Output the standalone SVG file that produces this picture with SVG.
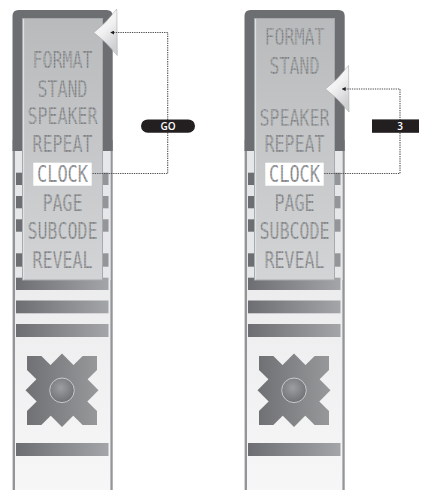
<svg xmlns="http://www.w3.org/2000/svg" xmlns:xlink="http://www.w3.org/1999/xlink" width="422" height="490" viewBox="0 0 422 490">
<style>
.lcd{font-family:"DejaVu Sans Mono",monospace;font-size:23px;fill:url(#dots);text-anchor:middle;}
.conn{fill:none;stroke:#4d4d4f;stroke-width:1.1;stroke-dasharray:1.3 1;}
.lbl{fill:#231f20;}
.lbltxt{font-family:"Open Sans","Liberation Sans",sans-serif;font-size:10px;font-weight:600;fill:#ffffff;text-anchor:middle;}
.seg{fill:#6d6e71;}
.segR{fill:#939598;}
.bar{fill:url(#barGrad);}
</style>
<defs>
<pattern id="dots" patternUnits="userSpaceOnUse" width="1.5" height="1.5">
<rect width="1.5" height="1.5" fill="#b4b6b8"/>
<rect width="1" height="1" fill="#6f7174"/>
</pattern>
<linearGradient id="bodyGrad" x1="0" y1="0" x2="0" y2="1">
<stop offset="0" stop-color="#e2e3e4"/>
<stop offset="1" stop-color="#f7f7f8"/>
</linearGradient>
<linearGradient id="screenGrad" x1="0" y1="0" x2="0" y2="1">
<stop offset="0" stop-color="#b8babc"/>
<stop offset="1" stop-color="#d3d4d5"/>
</linearGradient>
<linearGradient id="barGrad" x1="0" y1="0" x2="1" y2="0">
<stop offset="0" stop-color="#6d6e71"/>
<stop offset="1" stop-color="#a3a5a8"/>
</linearGradient>
<linearGradient id="crossGrad" gradientUnits="userSpaceOnUse" x1="25" y1="0" x2="99" y2="0">
<stop offset="0" stop-color="#6f7073"/>
<stop offset="1" stop-color="#97999b"/>
</linearGradient>
<radialGradient id="knobGrad" cx="0.45" cy="0.4" r="0.6">
<stop offset="0" stop-color="#9c9ea0"/>
<stop offset="1" stop-color="#707174"/>
</radialGradient>
<linearGradient id="ptrGrad" x1="0" y1="0" x2="0.5" y2="1">
<stop offset="0" stop-color="#ffffff"/>
<stop offset="0.55" stop-color="#f1f1f2"/>
<stop offset="1" stop-color="#cfd0d2"/>
</linearGradient>
<clipPath id="crossClip">
<rect x="27" y="356" width="70" height="69"/>
</clipPath>
<marker id="arrowHead" viewBox="0 0 6 6" refX="1" refY="3" markerWidth="4" markerHeight="4" orient="auto-start-reverse" markerUnits="userSpaceOnUse">
<path d="M0,0 L6,3 L0,6 Z" fill="#231f20"/>
</marker>
<path id="pointer" d="M0,0 Q12,-9 23,-23.5 L23.5,23 Q12,9 0,0 Z" fill="url(#ptrGrad)" stroke="#a9abae" stroke-width="0.6"/>
<g id="device">
<rect x="13" y="100" width="99" height="400" fill="url(#bodyGrad)"/>
<rect x="12.6" y="140" width="2.4" height="360" fill="#939598"/>
<rect x="110.4" y="140" width="2.3" height="360" fill="#939598"/>
<path d="M12.5,151 V16 Q12.5,10 18.5,10 H106.5 Q112.7,10 112.7,16 V151 Z" fill="#6d6e71"/>
<rect x="15" y="151" width="7.5" height="129" fill="#e6e7e8"/>
<rect x="102.5" y="151" width="8" height="129" fill="#e6e7e8"/>
<rect class="seg" x="16" y="172.7" width="6.5" height="12.3"/>
<rect class="seg" x="16" y="196" width="6.5" height="12.3"/>
<rect class="seg" x="16" y="219.3" width="6.5" height="12.4"/>
<rect class="seg" x="16" y="253.3" width="6.5" height="13.4"/>
<rect class="segR" x="102.5" y="172.7" width="6" height="12.3"/>
<rect class="segR" x="102.5" y="196" width="6" height="12.3"/>
<rect class="segR" x="102.5" y="219.3" width="6" height="12.4"/>
<rect class="segR" x="102.5" y="253.3" width="6" height="13.4"/>
<rect class="bar" x="16" y="277.7" width="92.5" height="12.3"/>
<rect x="22.5" y="18.5" width="80" height="261.5" fill="url(#screenGrad)" stroke="#a7a9ac" stroke-width="1"/>
<line x1="23.6" y1="19" x2="23.6" y2="279.5" stroke="#e3e4e5" stroke-width="1"/>
<rect class="bar" x="16" y="300.5" width="92.5" height="12.8"/>
<rect class="bar" x="16" y="324" width="92.5" height="13"/>
<rect class="bar" x="16" y="443" width="92.5" height="13"/>
<polygon points="62,353.5 98.5,390.3 62,427 25.5,390.3" fill="url(#crossGrad)"/>
<g clip-path="url(#crossClip)" stroke="url(#crossGrad)" stroke-width="20">
<line x1="17" y1="346" x2="107" y2="435"/>
<line x1="107" y1="346" x2="17" y2="435"/>
</g>
<circle cx="62" cy="390.3" r="12.3" fill="url(#knobGrad)" stroke="#c9cacc" stroke-width="1"/>
</g>
</defs>

<g id="device-left">
<use xlink:href="#device"/>
<rect x="33.3" y="162.7" width="58.4" height="23" fill="#ffffff"/>
<text class="lcd" x="62.5" y="68.3" textLength="60" lengthAdjust="spacingAndGlyphs">FORMAT</text>
<text class="lcd" x="62.5" y="96.7" textLength="50" lengthAdjust="spacingAndGlyphs">STAND</text>
<text class="lcd" x="62.5" y="124.3" textLength="70" lengthAdjust="spacingAndGlyphs">SPEAKER</text>
<text class="lcd" x="62.5" y="151.7" textLength="60" lengthAdjust="spacingAndGlyphs">REPEAT</text>
<text class="lcd" x="62.5" y="181.6" textLength="51" lengthAdjust="spacingAndGlyphs">CLOCK</text>
<text class="lcd" x="62.5" y="210.6" textLength="40" lengthAdjust="spacingAndGlyphs">PAGE</text>
<text class="lcd" x="62.5" y="239.3" textLength="70" lengthAdjust="spacingAndGlyphs">SUBCODE</text>
<text class="lcd" x="62.5" y="268.3" textLength="60" lengthAdjust="spacingAndGlyphs">REVEAL</text>
</g>

<g id="device-right">
<use xlink:href="#device" transform="translate(232,0)"/>
<rect x="265.3" y="162.7" width="58.4" height="23" fill="#ffffff"/>
<text class="lcd" x="294.5" y="45" textLength="60" lengthAdjust="spacingAndGlyphs">FORMAT</text>
<text class="lcd" x="294.5" y="74" textLength="50" lengthAdjust="spacingAndGlyphs">STAND</text>
<text class="lcd" x="294.5" y="125.7" textLength="70" lengthAdjust="spacingAndGlyphs">SPEAKER</text>
<text class="lcd" x="294.5" y="152" textLength="60" lengthAdjust="spacingAndGlyphs">REPEAT</text>
<text class="lcd" x="294.5" y="181.6" textLength="51" lengthAdjust="spacingAndGlyphs">CLOCK</text>
<text class="lcd" x="294.5" y="210.6" textLength="40" lengthAdjust="spacingAndGlyphs">PAGE</text>
<text class="lcd" x="294.5" y="239.3" textLength="70" lengthAdjust="spacingAndGlyphs">SUBCODE</text>
<text class="lcd" x="294.5" y="268.3" textLength="60" lengthAdjust="spacingAndGlyphs">REVEAL</text>
</g>

<g id="pointer-left">
<use xlink:href="#pointer" transform="translate(93.8,32.5)"/>
</g>
<g id="pointer-right">
<use xlink:href="#pointer" transform="translate(325.5,89)"/>
</g>

<g id="connectors">
<path class="conn" d="M113.5,32.5 H167.7 V173.5 H92" marker-start="url(#arrowHead)"/>
<path class="conn" d="M345,89 H400 V173.5 H324" marker-start="url(#arrowHead)"/>
</g>

<g id="label-go">
<rect class="lbl" x="141" y="119.4" width="54" height="13.4" rx="6.7"/>
<text class="lbltxt" x="168" y="129.9">GO</text>
</g>
<g id="label-3">
<rect class="lbl" x="372" y="119.4" width="47" height="13.4"/>
<text class="lbltxt" x="400" y="129.9">3</text>
</g>
</svg>
